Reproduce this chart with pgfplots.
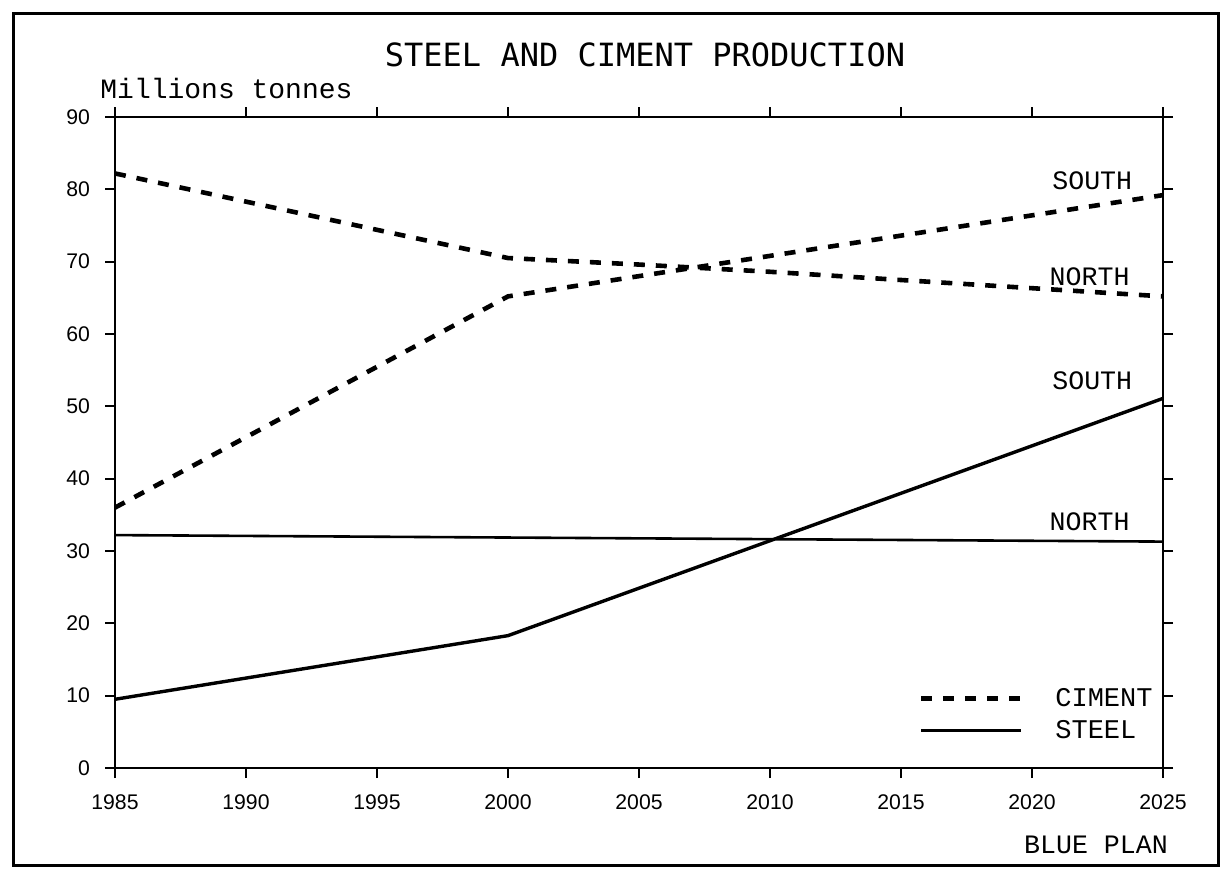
\documentclass[border=0pt]{standalone}
\usepackage{fontspec}
\usepackage{pgfplots}
\pgfplotsset{compat=1.18}
\setmainfont{Liberation Mono}
\newfontfamily\plotter{DejaVu Sans Mono}
\newfontfamily\ticksf{Liberation Sans}
\begin{document}
\begin{tikzpicture}
\path (0,0) rectangle (610pt,437pt);
\draw[line width=1.5pt] (6.5pt,4.5pt) rectangle (609pt,430pt);
\node[font=\plotter\fontsize{16}{19}\selectfont] at (322.5pt,409.5pt) {STEEL AND CIMENT PRODUCTION};
\node[anchor=west,inner sep=0pt,font=\fontsize{14}{16}\selectfont] at (50pt,393pt) {Millions tonnes};
\node[font=\fontsize{13.3}{15}\selectfont] at (548pt,14.5pt) {BLUE PLAN};
\begin{axis}[
  at={(57.5pt,53pt)}, anchor=south west,
  scale only axis, width=524pt, height=325.5pt,
  xmin=1985, xmax=2025, ymin=0, ymax=90,
  xtick={1985,1990,...,2025}, ytick={0,10,...,90},
  tick align=outside, major tick length=5pt,
  axis line style={line width=1pt}, tick style={line width=0.9pt, black},
  /pgf/number format/assume math mode=true,
  /pgf/number format/set thousands separator={},
  ticklabel style={font=\ticksf\fontsize{10.6}{12}\selectfont},
  xticklabel style={yshift=-5pt},
  yticklabel style={xshift=-4pt},
  clip=false,
  legend style={draw=none, fill=none, inner sep=0pt, at={(axis cs:2025,0)}, anchor=south east,
    xshift=-3pt, yshift=12.5pt, row sep=4pt,
    nodes={text height=8pt, text depth=0pt, inner sep=2pt},
    font=\fontsize{13.5}{15}\selectfont,
    /tikz/every odd column/.append style={column sep=14pt}},
  legend cell align=left,
  legend image code/.code={\draw[#1] (0pt,0pt) -- (50pt,0pt);},
]
\addplot[black, line width=2.3pt, dash pattern=on 5.5pt off 5.5pt] coordinates {(1985,36) (2000,65.2) (2025,79.2)};
\addlegendentry{CIMENT}
\addplot[black, line width=2.3pt, dash pattern=on 5.5pt off 5.5pt, forget plot] coordinates {(1985,82.2) (2000,70.5) (2005,69.6) (2010,68.6) (2025,65.2)};
\addplot[black, line width=1.7pt] coordinates {(1985,9.5) (2000,18.3) (2025,51.1)};
\addlegendentry{STEEL}
\addplot[black, line width=1.3pt, forget plot] coordinates {(1985,32.2) (2025,31.3)};
\node[font=\fontsize{13.3}{15}\selectfont] at (axis cs:2022.3,81.2) {SOUTH};
\node[font=\fontsize{13.3}{15}\selectfont] at (axis cs:2022.2,67.9) {NORTH};
\node[font=\fontsize{13.3}{15}\selectfont] at (axis cs:2022.3,53.5) {SOUTH};
\node[font=\fontsize{13.3}{15}\selectfont] at (axis cs:2022.2,34.1) {NORTH};
\end{axis}
\end{tikzpicture}
\end{document}
